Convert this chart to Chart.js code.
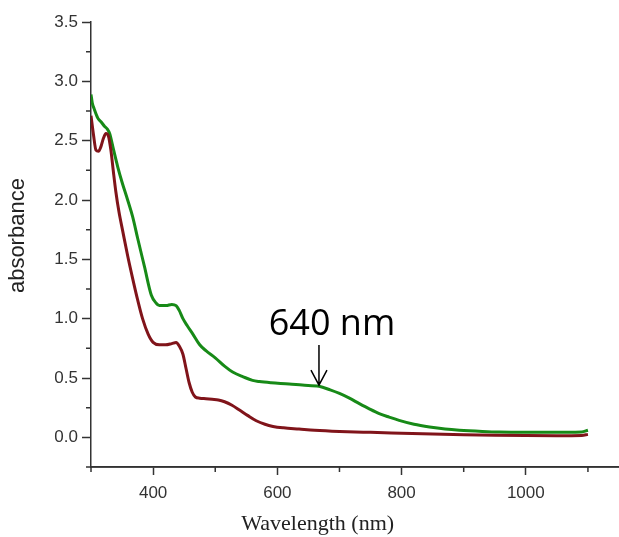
<!DOCTYPE html>
<html>
<head>
<meta charset="utf-8">
<script src="https://cdn.jsdelivr.net/npm/chart.js@4.4.0/dist/chart.umd.min.js"></script>
<style>
  body { margin: 0; background: #fff; }
  #wrap { width: 619px; height: 537px; }
</style>
</head>
<body>
<div id="wrap"><canvas id="spectrum" width="619" height="537"></canvas></div>
<script>
// Absorbance spectra (wavelength in nm)
const redWavelength = [300, 304, 308, 312, 316, 320, 324, 328, 332, 336, 340, 345, 351, 359, 367, 375, 383, 392, 400, 410, 420, 430, 437, 442, 448, 453, 458, 463, 468, 475, 485, 495, 505, 515, 527, 539, 552, 566, 580, 593, 610, 635, 660, 700, 750, 800, 850, 900, 950, 1000, 1050, 1090, 1100];
const redAbsorbance = [2.71, 2.55, 2.42, 2.41, 2.45, 2.52, 2.56, 2.54, 2.42, 2.24, 2.07, 1.9, 1.74, 1.53, 1.34, 1.16, 1.0, 0.87, 0.80, 0.78, 0.78, 0.79, 0.80, 0.77, 0.70, 0.58, 0.46, 0.38, 0.34, 0.33, 0.325, 0.32, 0.315, 0.30, 0.27, 0.23, 0.185, 0.14, 0.11, 0.092, 0.08, 0.07, 0.06, 0.05, 0.042, 0.035, 0.028, 0.022, 0.018, 0.015, 0.014, 0.016, 0.025];

const greenWavelength = [300, 302, 305, 311, 316, 322, 326, 330, 336, 343, 350, 359, 367, 375, 386, 397, 405, 410, 421, 430, 437, 442, 448, 455, 464, 475, 485, 500, 515, 528, 545, 560, 571, 590, 619, 640, 667, 685, 700, 716, 732, 748, 764, 780, 796, 820, 845, 870, 893, 930, 957, 1000, 1065, 1090, 1100];
const greenAbsorbance = [2.89, 2.82, 2.77, 2.69, 2.66, 2.62, 2.6, 2.56, 2.43, 2.28, 2.15, 2.0, 1.86, 1.68, 1.44, 1.2, 1.13, 1.11, 1.11, 1.12, 1.11, 1.07, 1.0, 0.94, 0.87, 0.78, 0.73, 0.67, 0.60, 0.55, 0.51, 0.48, 0.47, 0.46, 0.45, 0.44, 0.43, 0.40, 0.37, 0.33, 0.284, 0.24, 0.2, 0.17, 0.143, 0.11, 0.087, 0.07, 0.06, 0.05, 0.045, 0.043, 0.043, 0.045, 0.06];

// axis ticks
const xMajorTicks = [400, 600, 800, 1000];
const xMinorTicks = [300, 500, 700, 900, 1100];
const yMajorTicks = [0, 0.5, 1.0, 1.5, 2.0, 2.5, 3.0, 3.5];
const yMinorTicks = [-0.25, 0.25, 0.75, 1.25, 1.75, 2.25, 2.75, 3.25];

// annotation
const peakLabel = '640 nm';
const peakArrowAt = 667;     // wavelength where arrow points
const peakArrowValue = 0.44; // absorbance at arrow tip

const axisColor = '#333';

function toPoints(xs, ys) {
    return xs.map((x, i) => ({ x: x, y: ys[i] }));
}

// Minor ticks, arrow label and axis titles
const extrasPlugin = {
    id: 'extras',
    afterDraw(chart) {
        const ctx = chart.ctx;
        const xs = chart.scales.x, ys = chart.scales.y;
        const area = chart.chartArea;
        ctx.save();
        ctx.strokeStyle = axisColor;
        ctx.lineWidth = 1.5;
        ctx.beginPath();
        // bottom axis runs to the edge of the figure
        ctx.moveTo(area.left, area.bottom);
        ctx.lineTo(chart.width, area.bottom);
        xMinorTicks.forEach(v => {
            const px = xs.getPixelForValue(v);
            ctx.moveTo(px, area.bottom);
            ctx.lineTo(px, area.bottom + 5);
        });
        yMinorTicks.forEach(v => {
            const py = ys.getPixelForValue(v);
            ctx.moveTo(area.left, py);
            ctx.lineTo(area.left - 5, py);
        });
        ctx.stroke();

        // arrow
        const tipX = xs.getPixelForValue(peakArrowAt);
        const tipY = ys.getPixelForValue(peakArrowValue);
        ctx.strokeStyle = '#000';
        ctx.lineWidth = 1.5;
        ctx.beginPath();
        ctx.moveTo(tipX, tipY - 40);
        ctx.lineTo(tipX, tipY);
        ctx.moveTo(tipX - 8, tipY - 15);
        ctx.lineTo(tipX, tipY);
        ctx.lineTo(tipX + 8, tipY - 15);
        ctx.stroke();

        ctx.fillStyle = '#000';
        ctx.font = '36px "Open Sans"';
        ctx.textAlign = 'center';
        ctx.textBaseline = 'alphabetic';
        ctx.fillText(peakLabel, tipX + 13, tipY - 50);

        // x title
        ctx.font = '22px "Liberation Serif"';
        ctx.fillStyle = '#222';
        ctx.textBaseline = 'middle';
        ctx.fillText('Wavelength (nm)', xs.getPixelForValue(665), 524);

        // y title
        ctx.translate(18, ys.getPixelForValue(1.7));
        ctx.rotate(-Math.PI / 2);
        ctx.font = '22px "Liberation Sans"';
        ctx.fillText('absorbance', 0, 0);
        ctx.restore();
    }
};

const ctx = document.getElementById('spectrum').getContext('2d');
new Chart(ctx, {
    type: 'line',
    data: {
        datasets: [{
            label: 'sample 1',
            data: toPoints(redWavelength, redAbsorbance),
            borderColor: '#80141a',
            borderWidth: 3,
            pointRadius: 0,
            cubicInterpolationMode: 'monotone'
        }, {
            label: 'sample 2',
            data: toPoints(greenWavelength, greenAbsorbance),
            borderColor: '#178a17',
            borderWidth: 3,
            pointRadius: 0,
            cubicInterpolationMode: 'monotone'
        }]
    },
    options: {
        responsive: false,
        animation: false,
        layout: { padding: { top: 22, right: 0, left: 0, bottom: 0 } },
        plugins: {
            legend: { display: false },
            tooltip: { enabled: false }
        },
        scales: {
            x: {
                type: 'linear',
                min: 300,
                max: 1150,
                afterBuildTicks: s => { s.ticks = xMajorTicks.map(v => ({ value: v })); },
                afterFit: s => { s.height = 70; },
                border: { color: axisColor, width: 1.5 },
                grid: { drawOnChartArea: false, tickLength: 8, tickColor: axisColor, tickWidth: 1.5 },
                ticks: {
                    color: '#333',
                    font: { family: 'Liberation Sans', size: 17 },
                    padding: 8,
                    maxRotation: 0,
                    callback: v => String(v)
                }
            },
            y: {
                min: -0.25,
                max: 3.5,
                afterBuildTicks: s => { s.ticks = yMajorTicks.map(v => ({ value: v })); },
                afterFit: s => { s.width = 91; },
                border: { color: axisColor, width: 1.5 },
                grid: { drawOnChartArea: false, tickLength: 9, tickColor: axisColor, tickWidth: 1.5 },
                ticks: {
                    color: '#333',
                    font: { family: 'Liberation Sans', size: 17 },
                    padding: 4,
                    callback: v => v.toFixed(1)
                }
            }
        }
    },
    plugins: [extrasPlugin]
});
</script>
</body>
</html>
